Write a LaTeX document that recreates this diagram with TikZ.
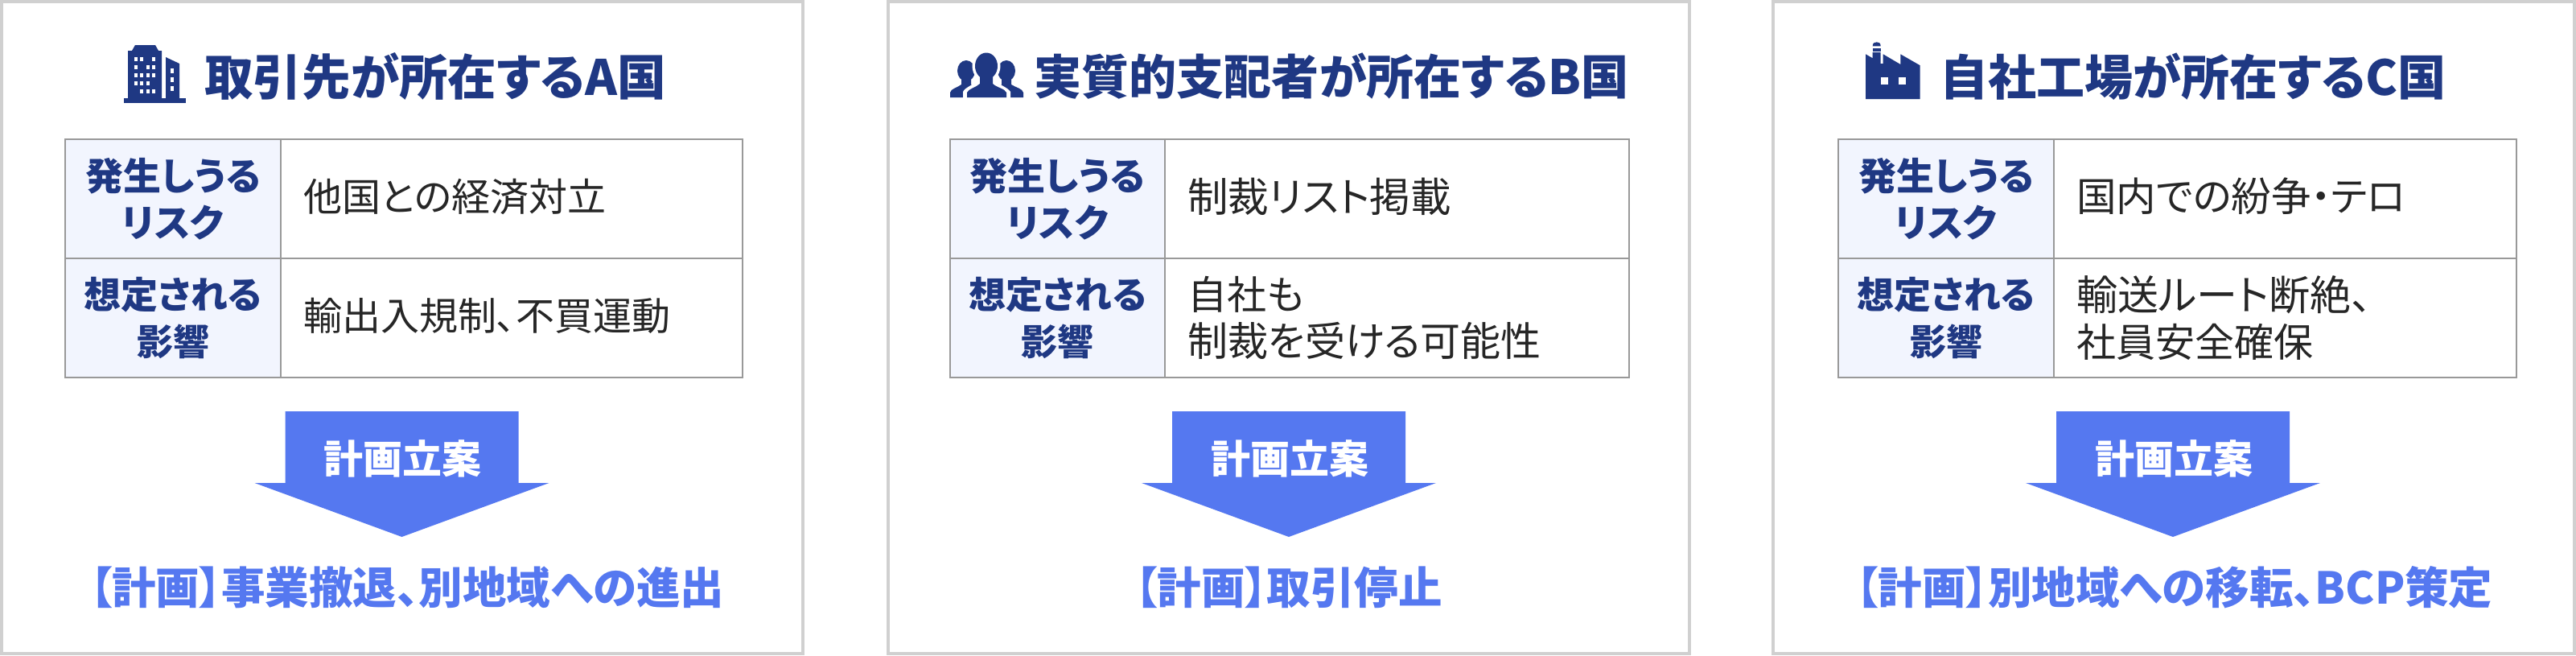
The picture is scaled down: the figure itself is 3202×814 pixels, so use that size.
\documentclass[tikz,border=0pt]{standalone}
\usepackage{fontspec}
\setmainfont{Noto Sans CJK JP}[RawFeature=+palt]
\definecolor{navy}{HTML}{1F3883}
\definecolor{planblue}{HTML}{5578F0}
\definecolor{cellfill}{HTML}{F2F5FE}
\definecolor{rule}{HTML}{999999}
\definecolor{panelrule}{HTML}{D0D0D0}
\definecolor{bodyink}{HTML}{262626}
\tikzset{
  x=1pt,y=-1pt,
  panelbox/.style={draw=panelrule,line width=4pt,fill=white,minimum width=#1,minimum height=810pt,inner sep=0pt,outer sep=0pt},
  titletext/.style={text=navy,font=\fontsize{60}{64}\selectfont\bfseries,inner sep=0pt},
  labelcell/.style={draw=rule,line width=2pt,fill=cellfill,minimum height=148pt,inner sep=0pt,outer sep=0pt,align=center,text=navy,font=\fontsize{47}{58}\selectfont\bfseries},
  bodycell/.style={draw=rule,line width=2pt,fill=white,minimum height=148pt,inner sep=0pt,outer sep=0pt},
  bodytext/.style={text=bodyink,align=left,inner sep=0pt,anchor=west,font=\fontsize{49}{58}\selectfont},
  bigarrow/.style={fill=planblue,draw=none},
  arrowtext/.style={text=white,inner sep=0pt,font=\fontsize{49}{54}\selectfont\bfseries},
  plantext/.style={text=planblue,inner sep=0pt,font=\fontsize{54.5}{58}\selectfont\bfseries},
  iconfill/.style={fill=navy,draw=none},
  iconhole/.style={fill=white,draw=none},
}
\newcommand{\bodylines}{}
\newcommand{\sz}[1]{\fontsize{#1}{58}\selectfont}
\newcommand{\rowsof}[6]{%
  \pgfmathsetmacro{\lc}{(#2+#3)/2}\pgfmathsetmacro{\bc}{(#3+#4)/2}%
  \pgfmathsetmacro{\bw}{#4-#3}\pgfmathsetmacro{\lw}{#3-#2}%
  \node[labelcell,minimum width=\lw pt] (#1l1) at (\lc,247) {発生しうる\\リスク};
  \node[labelcell,minimum width=\lw pt] (#1l2) at (\lc,395) {{\sz{46}想定される}\\{\sz{45}影響}};
  \node[bodycell,minimum width=\bw pt] (#1b1) at (\bc,247) {};
  \node[bodycell,minimum width=\bw pt] (#1b2) at (\bc,395) {};
  \node[bodytext] (#1t1) at (#3+28,244) {#5};
  \node[bodytext] (#1t2) at (#3+28,#6) {\bodylines};
}
\begin{document}
\begin{tikzpicture}
\useasboundingbox (0,0) rectangle (3202,814);
\fill[white] (0,0) rectangle (3202,814);

% panels
\node[panelbox=996pt] (p1) at (499.5,407) {};
\node[panelbox=996pt] (p2) at (1602,407) {};
\node[panelbox=996pt] (p3) at (2702,407) {};

% titles
\node[titletext] (title1) at (541,95) {\fontsize{60.5}{64}\selectfont 取引先が所在するA国};
\node[titletext] (title2) at (1655,95) {\fontsize{59}{64}\selectfont 実質的支配者が所在するB国};
\node[titletext] (title3) at (2726,95) {自社工場が所在するC国};

% building icon
\fill[iconfill] (154,122) rectangle (231,128);
\fill[iconfill] (159,122) -- (159,63) -- (164,63) -- (168,56) -- (193,56) -- (197,63) -- (201,63) -- (201,122) -- cycle;
\fill[iconfill] (206,122) -- (206,71) -- (223,79) -- (223,122) -- cycle;
\foreach \wx/\wy in {169/73,176/73,191/73,169/83,184/83,191/83,169/93,176/93,184/93,191/93,169/103,176/103,184/103,176/113,184/113,191/113}
  \fill[iconhole] (\wx-2,\wy-2.5) rectangle (\wx+2,\wy+2.5);
\foreach \wy in {88,99,110}
  \fill[iconhole] (212,\wy-3) rectangle (216,\wy+3);

% people icon
\fill[iconfill] (1201,88) ellipse (11 and 13);
\fill[iconfill] (1251,88) ellipse (11 and 13);
\fill[iconfill] (1181,121) -- (1181,115) .. controls (1182,110) and (1190,109) .. (1195,105) -- (1195,95) -- (1207,95) -- (1207,105) .. controls (1212,108) and (1210,112) .. (1205,117) -- (1202,121) -- cycle;
\fill[iconfill] (1272,121) -- (1272,115) .. controls (1271,110) and (1263,109) .. (1257,105) -- (1257,95) -- (1245,95) -- (1245,105) .. controls (1240,108) and (1242,112) .. (1247,117) -- (1250,121) -- cycle;
\fill[white] (1226,82) ellipse (17.5 and 20);
\fill[white] (1197,123) -- (1197,114) .. controls (1200,108) and (1210,106) .. (1214,100) -- (1238,100) .. controls (1242,106) and (1252,108) .. (1256,114) -- (1256,123) -- cycle;
\fill[iconfill] (1226,82) ellipse (14 and 16.5);
\fill[iconfill] (1202,121) -- (1202,115) .. controls (1204,110) and (1213,109) .. (1218,104) -- (1218,92) -- (1234,92) -- (1234,104) .. controls (1239,109) and (1249,110) .. (1251,115) -- (1251,121) -- cycle;

% factory icon
\fill[iconfill] (2319,123) -- (2319,67.3) -- (2327.7,72.3) -- (2327.7,65) -- (2337.7,65) -- (2337.7,79) -- (2340.7,79) -- (2340.7,67.3) -- (2362.3,80) -- (2362.3,67.3) -- (2386.7,81.3) -- (2386.7,123) -- cycle;
\fill[iconfill] (2327.7,60) rectangle (2337.7,64);
\fill[iconfill] (2327.7,57.3) .. controls (2327.7,53.5) and (2330,52.3) .. (2332.7,52.3) .. controls (2335.4,52.3) and (2337.7,53.5) .. (2337.7,57.3) -- cycle;
\fill[iconhole] (2337.5,95.5) rectangle (2346.5,104.5);
\fill[iconhole] (2359.5,95.5) rectangle (2368.5,104.5);

% tables
\renewcommand{\bodylines}{\sz{48}輸出入規制、不買運動}
\rowsof{a}{81}{349}{923}{\sz{48}他国との経済対立}{392}
\renewcommand{\bodylines}{自社も\\\sz{50}制裁を受ける可能性}
\rowsof{b}{1181}{1448}{2025}{\sz{50.5}制裁リスト掲載}{395}
\renewcommand{\bodylines}{{\sz{51}輸送ルート断絶、}\\社員安全確保}
\rowsof{c}{2285}{2553}{3128}{\sz{49.5}国内での紛争・テロ}{395}

% arrows
\foreach \cx/\nm in {499.5/a,1602/b,2701/c}{
  \fill[bigarrow] (\cx-145,511) -- (\cx+145,511) -- (\cx+145,600) -- (\cx+183,600) -- (\cx,667) -- (\cx-183,600) -- (\cx-145,600) -- cycle;
  \node[arrowtext] (arrow\nm) at (\cx+1,570) {計画立案};
}

% plans
\node[plantext] (plan1) at (506,730) {【計画】事業撤退、別地域への進出};
\node[plantext] (plan2) at (1602,730) {【計画】取引停止};
\node[plantext] (plan3) at (2703,730) {【計画】別地域への移転、BCP策定};
\end{tikzpicture}
\end{document}
